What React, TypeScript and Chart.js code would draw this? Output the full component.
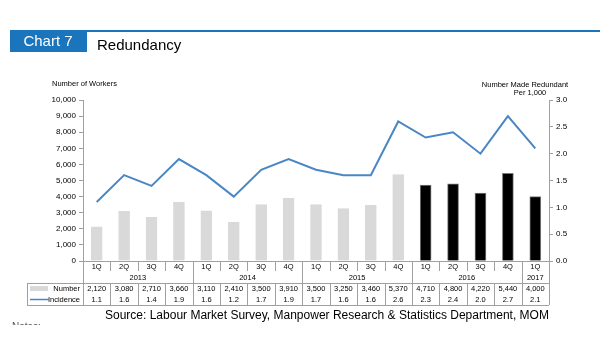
import React, { useEffect, useRef } from "react";
import { Chart, registerables } from "chart.js";

Chart.register(...registerables);

const quarters = ["1Q", "2Q", "3Q", "4Q", "1Q", "2Q", "3Q", "4Q", "1Q", "2Q", "3Q", "4Q", "1Q", "2Q", "3Q", "4Q", "1Q"];
const years = [
  { label: "2013", span: 4 },
  { label: "2014", span: 4 },
  { label: "2015", span: 4 },
  { label: "2016", span: 4 },
  { label: "2017", span: 1 },
];
const numberMadeRedundant = [2120, 3080, 2710, 3660, 3110, 2410, 3500, 3910, 3500, 3250, 3460, 5370, 4710, 4800, 4220, 5440, 4000];
const incidence = [1.1, 1.6, 1.4, 1.9, 1.6, 1.2, 1.7, 1.9, 1.7, 1.6, 1.6, 2.6, 2.3, 2.4, 2.0, 2.7, 2.1];
const highlightFrom = 12;

const FONT = "'Liberation Sans', Arial, sans-serif";
const BLUE = "#1b75bc";
const LINE_BLUE = "#4a86c5";
const GRID = "#a0a0a0";

const fmt = (n: number) => n.toLocaleString("en-US");

const decorPlugin = {
  id: "decor",
  afterDraw(chart: any) {
    const ctx = chart.ctx as CanvasRenderingContext2D;
    const x = chart.scales.x;
    const area = chart.chartArea;
    const n = quarters.length;
    const cw = (area.right - area.left) / n;
    const left = area.left;
    const right = area.right;
    const base = area.bottom;
    ctx.save();

    // header tab
    ctx.fillStyle = BLUE;
    ctx.fillRect(10, 30, 77, 22);
    ctx.fillRect(87, 30, 513, 2);
    ctx.fillStyle = "#fff";
    ctx.font = `15px ${FONT}`;
    ctx.textAlign = "center";
    ctx.textBaseline = "middle";
    ctx.fillText("Chart 7", 48, 42);
    ctx.fillStyle = "#000";
    ctx.textAlign = "left";
    ctx.font = `15px ${FONT}`;
    ctx.fillText("Redundancy", 97, 46);

    // axis titles
    ctx.font = `7.5px ${FONT}`;
    ctx.textAlign = "left";
    ctx.fillText("Number of Workers", 52, 84);
    ctx.textAlign = "center";
    ctx.fillText("Number Made Redundant", 525, 85);
    ctx.fillText("Per 1,000", 530, 93);

    // table lines
    ctx.strokeStyle = GRID;
    ctx.lineWidth = 1;
    const rowTop = 283;
    const rowBot = 305;
    const line = (x1: number, y1: number, x2: number, y2: number) => {
      ctx.beginPath();
      ctx.moveTo(x1, y1);
      ctx.lineTo(x2, y2);
      ctx.stroke();
    };
    line(left, base + 0.5, right, base + 0.5);
    line(Math.round(left) + 0.5, base, Math.round(left) + 0.5, rowBot);
    line(Math.round(right) + 0.5, base, Math.round(right) + 0.5, rowBot);
    line(27, rowTop + 0.5, right, rowTop + 0.5);
    line(27, rowBot + 0.5, right, rowBot + 0.5);
    line(27.5, rowTop, 27.5, rowBot);
    let idx = 0;
    const yearEnds = new Set<number>();
    years.forEach((y) => {
      idx += y.span;
      yearEnds.add(idx);
    });
    for (let i = 1; i < n; i++) {
      const bx = Math.round(left + i * cw) + 0.5;
      if (yearEnds.has(i)) line(bx, base, bx, rowBot);
      else {
        line(bx, base, bx, base + 10);
        line(bx, rowTop, bx, rowBot);
      }
    }

    // text
    ctx.fillStyle = "#000";
    ctx.font = `7.5px ${FONT}`;
    ctx.textAlign = "center";
    ctx.textBaseline = "middle";
    quarters.forEach((q, i) => {
      const px = x.getPixelForValue(i);
      ctx.fillText(q, px, 267);
      ctx.fillText(fmt(numberMadeRedundant[i]), px, 288.5);
      ctx.fillText(incidence[i].toFixed(1), px, 299.5);
    });
    let start = 0;
    years.forEach((y) => {
      const cx = left + (start + y.span / 2) * cw;
      ctx.fillText(y.label, cx, 277.5);
      start += y.span;
    });

    // legend labels in table
    ctx.textAlign = "right";
    ctx.fillText("Number", 80, 288.5);
    ctx.fillText("Incidence", 80, 299.5);
    ctx.fillStyle = "#d9d9d9";
    ctx.fillRect(30, 286, 18, 5);
    ctx.strokeStyle = LINE_BLUE;
    ctx.lineWidth = 1.5;
    line(30, 299.5, 49, 299.5);

    // source
    ctx.fillStyle = "#000";
    ctx.textAlign = "left";
    ctx.font = `12px ${FONT}`;
    ctx.fillText("Source: Labour Market Survey, Manpower Research & Statistics Department, MOM", 105, 316);

    // clipped note
    ctx.save();
    ctx.beginPath();
    ctx.rect(0, 321, 100, 4);
    ctx.clip();
    ctx.fillStyle = "#555";
    ctx.font = `10px ${FONT}`;
    ctx.fillText("Notes:", 12, 327);
    ctx.restore();

    ctx.restore();
  },
};

export default function App() {
  const ref = useRef<HTMLCanvasElement | null>(null);
  useEffect(() => {
    if (!ref.current) return;
    const barColors = numberMadeRedundant.map((_, i) => (i >= highlightFrom ? "#000000" : "#d9d9d9"));
    const barBorders = numberMadeRedundant.map((_, i) => (i >= highlightFrom ? "#7a7a7a" : "#d9d9d9"));
    const chart = new Chart(ref.current, {
      type: "bar",
      data: {
        labels: quarters,
        datasets: [
          {
            type: "line",
            label: "Incidence",
            data: incidence,
            yAxisID: "y1",
            borderColor: LINE_BLUE,
            borderWidth: 2,
            pointRadius: 0,
            tension: 0,
            order: 0,
          } as any,
          {
            type: "bar",
            label: "Number",
            data: numberMadeRedundant,
            yAxisID: "y",
            backgroundColor: barColors,
            borderColor: barBorders,
            borderWidth: 1,
            barThickness: 11,
            order: 1,
          },
        ],
      },
      options: {
        responsive: false,
        animation: false,
        devicePixelRatio: 1,
        layout: { padding: { top: 100, bottom: 99, left: 0, right: 0 } },
        plugins: { legend: { display: false }, tooltip: { enabled: false } },
        scales: {
          x: { display: false, offset: true, grid: { display: false } },
          y: {
            position: "left",
            min: 0,
            max: 10000,
            ticks: {
              stepSize: 1000,
              color: "#000",
              font: { family: FONT, size: 8 },
              padding: 3,
              callback: (v: any) => fmt(Number(v)),
            },
            grid: { drawOnChartArea: false, drawTicks: true, tickLength: 4, color: GRID },
            border: { color: GRID },
            afterFit: (s: any) => {
              s.width = 83;
            },
          },
          y1: {
            position: "right",
            min: 0,
            max: 3,
            ticks: {
              stepSize: 0.5,
              color: "#000",
              font: { family: FONT, size: 8 },
              padding: 3,
              callback: (v: any) => Number(v).toFixed(1),
            },
            grid: { drawOnChartArea: false, drawTicks: true, tickLength: 4, color: GRID },
            border: { color: GRID },
            afterFit: (s: any) => {
              s.width = 51;
            },
          },
        },
      },
      plugins: [decorPlugin],
    });
    return () => chart.destroy();
  }, []);
  return (
    <div style={{ position: "fixed", left: 0, top: 0, width: 600, height: 360, background: "#fff" }}>
      <canvas ref={ref} width={600} height={360} style={{ width: 600, height: 360, display: "block" }} />
    </div>
  );
}
